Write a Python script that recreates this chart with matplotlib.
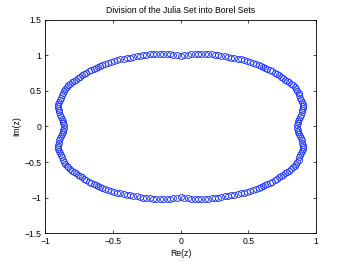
import matplotlib
matplotlib.use("Agg")
import matplotlib.pyplot as plt

title = "Division of the Julia Set into Borel Sets"
xlabel = "Re(z)"
ylabel = "Im(z)"
xticks = [-1, -0.5, 0, 0.5, 1]
xticklabels = ["\u22121", "\u22120.5", "0", "0.5", "1"]
yticks = [-1.5, -1, -0.5, 0, 0.5, 1, 1.5]
yticklabels = ["\u22121.5", "\u22121", "\u22120.5", "0", "0.5", "1", "1.5"]

# upper-right part of the curve
re_q1 = [0.000, 0.028, 0.054, 0.079, 0.104, 0.129, 0.154, 0.179, 0.204, 0.229,
         0.254, 0.278, 0.302, 0.326, 0.350, 0.374, 0.398, 0.421, 0.445, 0.469,
         0.492, 0.515, 0.537, 0.558, 0.578, 0.597, 0.612, 0.624, 0.640, 0.659,
         0.678, 0.697, 0.714, 0.730, 0.745, 0.760, 0.775, 0.790, 0.805, 0.819,
         0.832, 0.843, 0.853, 0.863, 0.872, 0.879, 0.884, 0.891, 0.898, 0.903,
         0.905, 0.904, 0.901, 0.897, 0.892, 0.885, 0.878, 0.871, 0.866, 0.862]
im_q1 = [0.985, 1.000, 1.010, 1.015, 1.019, 1.021, 1.021, 1.019, 1.016, 1.012,
         1.006, 0.999, 0.991, 0.983, 0.975, 0.967, 0.959, 0.951, 0.942, 0.932,
         0.921, 0.909, 0.896, 0.883, 0.869, 0.855, 0.840, 0.822, 0.808, 0.793,
         0.775, 0.756, 0.736, 0.716, 0.697, 0.678, 0.659, 0.640, 0.620, 0.598,
         0.575, 0.550, 0.524, 0.496, 0.466, 0.436, 0.406, 0.376, 0.346, 0.316,
         0.286, 0.256, 0.226, 0.196, 0.166, 0.136, 0.106, 0.076, 0.046, 0.016]
# upper-left part
re_q2 = [-0.028, -0.054, -0.079, -0.104, -0.129, -0.154, -0.179, -0.204, -0.229,
         -0.254, -0.278, -0.302, -0.326, -0.350, -0.374, -0.398, -0.421, -0.445, -0.469,
         -0.492, -0.515, -0.537, -0.558, -0.578, -0.597, -0.612, -0.624, -0.640, -0.659,
         -0.678, -0.697, -0.714, -0.730, -0.745, -0.760, -0.775, -0.790, -0.805, -0.819,
         -0.832, -0.843, -0.853, -0.863, -0.872, -0.879, -0.884, -0.891, -0.898, -0.903,
         -0.905, -0.904, -0.901, -0.897, -0.892, -0.885, -0.878, -0.871, -0.866, -0.862]
im_q2 = [1.000, 1.010, 1.015, 1.019, 1.021, 1.021, 1.019, 1.016, 1.012,
         1.006, 0.999, 0.991, 0.983, 0.975, 0.967, 0.959, 0.951, 0.942, 0.932,
         0.921, 0.909, 0.896, 0.883, 0.869, 0.855, 0.840, 0.822, 0.808, 0.793,
         0.775, 0.756, 0.736, 0.716, 0.697, 0.678, 0.659, 0.640, 0.620, 0.598,
         0.575, 0.550, 0.524, 0.496, 0.466, 0.436, 0.406, 0.376, 0.346, 0.316,
         0.286, 0.256, 0.226, 0.196, 0.166, 0.136, 0.106, 0.076, 0.046, 0.016]
# lower-left part
re_q3 = [0.000, -0.028, -0.054, -0.079, -0.104, -0.129, -0.154, -0.179, -0.204, -0.229,
         -0.254, -0.278, -0.302, -0.326, -0.350, -0.374, -0.398, -0.421, -0.445, -0.469,
         -0.492, -0.515, -0.537, -0.558, -0.578, -0.597, -0.612, -0.624, -0.640, -0.659,
         -0.678, -0.697, -0.714, -0.730, -0.745, -0.760, -0.775, -0.790, -0.805, -0.819,
         -0.832, -0.843, -0.853, -0.863, -0.872, -0.879, -0.884, -0.891, -0.898, -0.903,
         -0.905, -0.904, -0.901, -0.897, -0.892, -0.885, -0.878, -0.871, -0.866, -0.862]
im_q3 = [-0.985, -1.000, -1.010, -1.015, -1.019, -1.021, -1.021, -1.019, -1.016, -1.012,
         -1.006, -0.999, -0.991, -0.983, -0.975, -0.967, -0.959, -0.951, -0.942, -0.932,
         -0.921, -0.909, -0.896, -0.883, -0.869, -0.855, -0.840, -0.822, -0.808, -0.793,
         -0.775, -0.756, -0.736, -0.716, -0.697, -0.678, -0.659, -0.640, -0.620, -0.598,
         -0.575, -0.550, -0.524, -0.496, -0.466, -0.436, -0.406, -0.376, -0.346, -0.316,
         -0.286, -0.256, -0.226, -0.196, -0.166, -0.136, -0.106, -0.076, -0.046, -0.016]
# lower-right part
re_q4 = [0.028, 0.054, 0.079, 0.104, 0.129, 0.154, 0.179, 0.204, 0.229,
         0.254, 0.278, 0.302, 0.326, 0.350, 0.374, 0.398, 0.421, 0.445, 0.469,
         0.492, 0.515, 0.537, 0.558, 0.578, 0.597, 0.612, 0.624, 0.640, 0.659,
         0.678, 0.697, 0.714, 0.730, 0.745, 0.760, 0.775, 0.790, 0.805, 0.819,
         0.832, 0.843, 0.853, 0.863, 0.872, 0.879, 0.884, 0.891, 0.898, 0.903,
         0.905, 0.904, 0.901, 0.897, 0.892, 0.885, 0.878, 0.871, 0.866, 0.862]
im_q4 = [-1.000, -1.010, -1.015, -1.019, -1.021, -1.021, -1.019, -1.016, -1.012,
         -1.006, -0.999, -0.991, -0.983, -0.975, -0.967, -0.959, -0.951, -0.942, -0.932,
         -0.921, -0.909, -0.896, -0.883, -0.869, -0.855, -0.840, -0.822, -0.808, -0.793,
         -0.775, -0.756, -0.736, -0.716, -0.697, -0.678, -0.659, -0.640, -0.620, -0.598,
         -0.575, -0.550, -0.524, -0.496, -0.466, -0.436, -0.406, -0.376, -0.346, -0.316,
         -0.286, -0.256, -0.226, -0.196, -0.166, -0.136, -0.106, -0.076, -0.046, -0.016]

plt.rcParams['font.family'] = ['Liberation Sans', 'DejaVu Sans']

fig = plt.figure(figsize=(3.49, 2.62), dpi=100)
fig.patch.set_facecolor('white')
ax = fig.add_axes([0.13, 0.11, 0.775, 0.815])

re_all = re_q1 + re_q2 + re_q3 + re_q4
im_all = im_q1 + im_q2 + im_q3 + im_q4
ax.plot(re_all, im_all, linestyle='none', marker='o', markersize=4.3,
        markerfacecolor='none', markeredgecolor=(0.1, 0.2, 1.0), markeredgewidth=0.6)

ax.set_xlim(-1, 1)
ax.set_ylim(-1.5, 1.5)
ax.set_xticks(xticks)
ax.set_xticklabels(xticklabels)
ax.set_yticks(yticks)
ax.set_yticklabels(yticklabels)
ax.tick_params(direction='in', length=2.5, width=0.5, labelsize=6.2, pad=3,
               top=True, right=True, colors='black')
for s in ax.spines.values():
    s.set_linewidth(0.6)
    s.set_color('black')

ax.set_title(title, fontsize=6.2, pad=5)
ax.set_xlabel(xlabel, fontsize=6.2, labelpad=2)
ax.set_ylabel(ylabel, fontsize=6.2, labelpad=2)

fig.savefig("out.png", dpi=100, facecolor='white')
